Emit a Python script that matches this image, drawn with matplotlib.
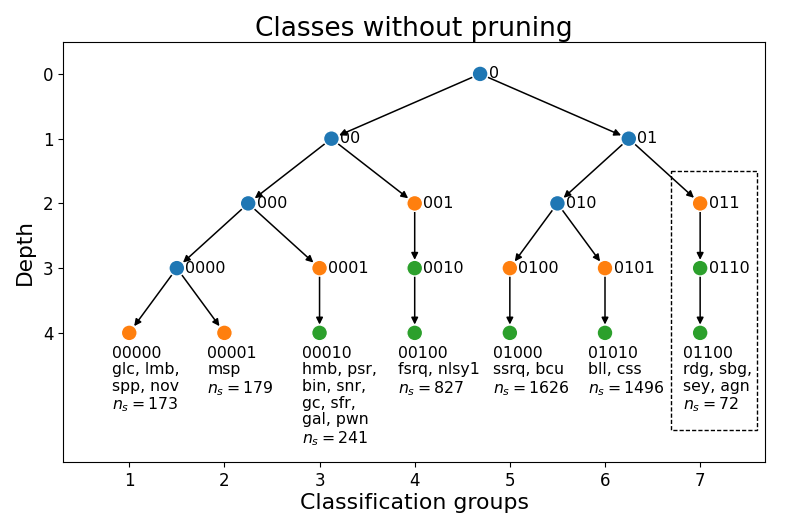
import matplotlib
matplotlib.use("Agg")
import matplotlib.pyplot as plt
from matplotlib.patches import Rectangle

# Tree nodes: name, x position, depth, colour class
node_names = ["0", "00", "01", "000", "001", "010", "011",
              "0000", "0001", "0010", "0100", "0101", "0110",
              "00000", "00001", "00010", "00100", "01000", "01010", "01100"]
node_x = [4.6875, 3.125, 6.25, 2.25, 4, 5.5, 7,
          1.5, 3, 4, 5, 6, 7,
          1, 2, 3, 4, 5, 6, 7]
node_depth = [0, 1, 1, 2, 2, 2, 2,
              3, 3, 3, 3, 3, 3,
              4, 4, 4, 4, 4, 4, 4]
node_kind = ["split", "split", "split", "split", "first", "split", "first",
             "split", "first", "cont", "first", "first", "cont",
             "first", "first", "cont", "cont", "cont", "cont", "cont"]
edges = [("0", "00"), ("0", "01"), ("00", "000"), ("00", "001"),
         ("01", "010"), ("01", "011"), ("000", "0000"), ("000", "0001"),
         ("001", "0010"), ("010", "0100"), ("010", "0101"), ("011", "0110"),
         ("0000", "00000"), ("0000", "00001"), ("0001", "00010"),
         ("0010", "00100"), ("0100", "01000"), ("0101", "01010"), ("0110", "01100")]

# Leaf annotations
leaf_names = ["00000", "00001", "00010", "00100", "01000", "01010", "01100"]
leaf_classes = ["glc, lmb,\nspp, nov", "msp", "hmb, psr,\nbin, snr,\ngc, sfr,\ngal, pwn",
                "fsrq, nlsy1", "ssrq, bcu", "bll, css", "rdg, sbg,\nsey, agn"]
leaf_ns = [173, 179, 241, 827, 1626, 1496, 72]

group_ticks = [1, 2, 3, 4, 5, 6, 7]
depth_ticks = [0, 1, 2, 3, 4]

kind_colors = {"split": "#1f77b4", "first": "#ff7f0e", "cont": "#2ca02c"}

fig = plt.figure(figsize=(7.89, 5.26), dpi=100)
ax = fig.add_axes([0.08, 0.121, 0.89, 0.80])

pos = {n: (x, d) for n, x, d in zip(node_names, node_x, node_depth)}

for a, b in edges:
    ax.annotate("", xy=pos[b], xytext=pos[a],
                arrowprops=dict(arrowstyle="-|>", color="black", lw=1.1,
                                shrinkA=6, shrinkB=6, mutation_scale=10))

ax.scatter(node_x, node_depth, s=130, c=[kind_colors[k] for k in node_kind],
           edgecolors="white", linewidths=1.0, zorder=3)

for n, x, d in zip(node_names, node_x, node_depth):
    if d < 4:
        ax.text(x + 0.09, d, n, fontsize=11.5, va="center", ha="left", zorder=4)

for n, cls, ns in zip(leaf_names, leaf_classes, leaf_ns):
    x, d = pos[n]
    ax.text(x - 0.18, d + 0.2, f"{n}\n{cls}\n$n_s={ns}$", fontsize=11.3,
            va="top", ha="left", linespacing=1.13)

ax.add_patch(Rectangle((6.69, 1.5), 0.91, 4.0, fill=False,
                       linestyle=(0, (3, 1.5)), lw=1.0, ec="black"))

ax.set_xlim(0.305, 7.685)
ax.set_ylim(6.0, -0.5)
ax.set_xticks(group_ticks)
ax.set_yticks(depth_ticks)
ax.tick_params(labelsize=12)
ax.set_xlabel("Classification groups", fontsize=15.8, labelpad=2)
ax.set_ylabel("Depth", fontsize=15.6, labelpad=6)
ax.set_title("Classes without pruning", fontsize=19, pad=3)

fig.savefig("out.png", dpi=100)
